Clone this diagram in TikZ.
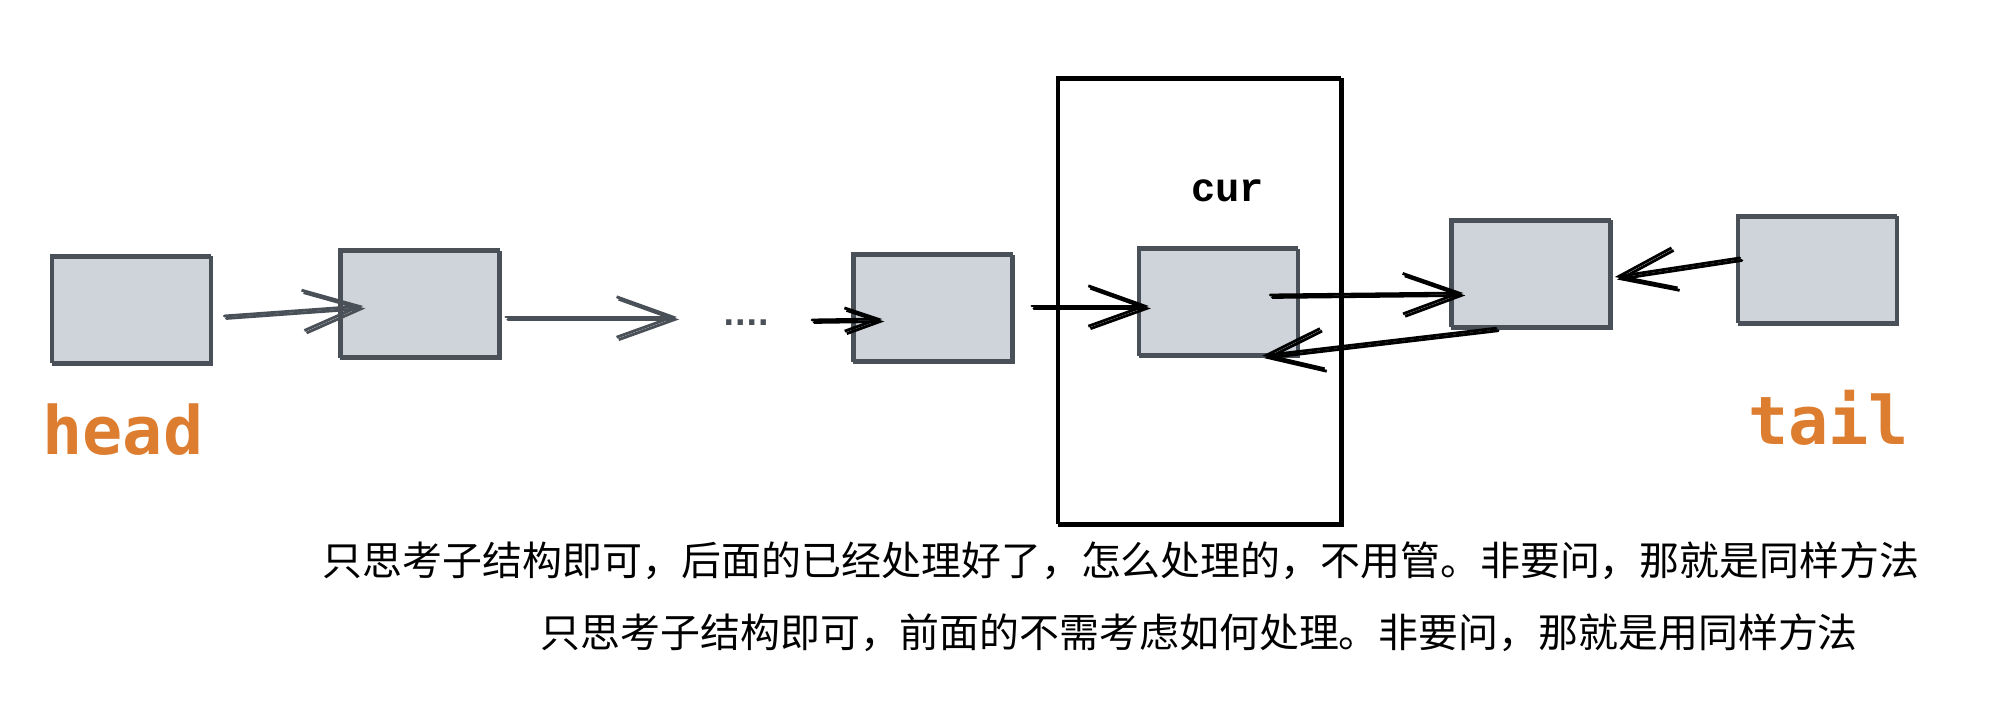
\documentclass[tikz,border=0pt]{standalone}
\usepackage{fontspec}
\newfontfamily\cjk{Noto Sans CJK SC}
\newfontfamily\labfont{DejaVu Sans Mono}
\newfontfamily\curfont{Liberation Mono}
\newfontfamily\dotfont{DejaVu Sans}
\usetikzlibrary{arrows.meta}

\definecolor{cbox}{RGB}{206,212,218}
\definecolor{cedge}{RGB}{73,80,87}
\definecolor{corange}{RGB}{221,125,48}

\begin{document}
\begin{tikzpicture}[x=0.01cm,y=-0.01cm,
        rough/.style={postaction={draw,transform canvas={shift={(0.6pt,-0.7pt)}}}},
        nd/.style={rectangle,draw=cedge,fill=cbox,line width=0.7pt,inner sep=0pt,
          minimum width=1.59cm,minimum height=1.07cm,rough},
        ptr/.style={line width=0.8pt,line cap=round,rough,
          -{Straight Barb[length=16pt,width=11.5pt]}},
        ptrs/.style={line width=0.8pt,line cap=round,rough,
          -{Straight Barb[length=9.5pt,width=6.6pt]}},
        lab/.style={font=\fontsize{19}{22}\selectfont\bfseries\labfont,text=corange,inner sep=0pt,anchor=base},
        note/.style={font=\fontsize{11.35}{13}\selectfont\cjk,inner sep=0pt,anchor=west}]
      \useasboundingbox (0,0) rectangle (1998,722);
      % list nodes
      \node[nd] (b1) at (130.5,308.5) {};
      \node[nd] (b2) at (419,303) {};
      \node[nd] (b3) at (932,307) {};
      \node[nd] (b4) at (1217.5,301) {};
      \node[nd] (b5) at (1530,272.5) {};
      \node[nd] (b6) at (1816.5,268.5) {};
      \node[draw,line width=0.75pt,inner sep=0pt,minimum width=2.83cm,minimum height=4.46cm,rough]
        (frame) at (1198.5,300) {};
      % labels
      \node[lab] (head) at (123,455) {head};
      \node[lab] (tail) at (1828.5,445) {tail};
      \node[font=\fontsize{11.5}{13}\selectfont\bfseries\curfont,inner sep=0pt,anchor=base]
        (cur) at (1227.5,202) {cur};
      \node[font=\fontsize{8.6}{10}\selectfont\bfseries\dotfont,text=cedge,inner sep=0pt]
        (dots) at (746,323) {....};
      \coordinate (gapin) at (677,317);
      \coordinate (gapout) at (812,320);
      % pointers
      \draw[ptr,cedge] ([shift={(13,7.5)}]b1.east) -- ([shift={(25,3)}]b2.west);
      \draw[ptr,cedge] ([shift={(6,14)}]b2.east) -- (gapin);
      \draw[ptrs] (gapout) -- ([shift={(31,12)}]b3.west);
      \draw[ptr] ([shift={(19,-1)}]b3.east) -- ([shift={(12,5)}]b4.west);
      \draw[ptr] ([shift={(-28,-6)}]b4.east) -- ([shift={(14,20.5)}]b5.west);
      \draw[ptr] ([shift={(-34,1)}]b5.south) -- ([shift={(-36,0)}]b4.south east);
      \draw[ptr] ([shift={(4,-10.5)}]b6.west) -- ([shift={(4,4.5)}]b5.east);
      % notes
      \node[note] (note1) at (322,561) {只思考子结构即可，后面的已经处理好了，怎么处理的，不用管。非要问，那就是同样方法};
      \node[note] (note2) at (540,633) {只思考子结构即可，前面的不需考虑如何处理。非要问，那就是用同样方法};
    \end{tikzpicture}
\end{document}
